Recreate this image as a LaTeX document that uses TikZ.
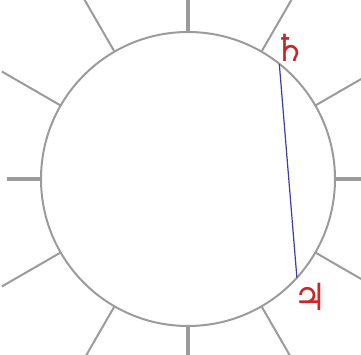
\documentclass[tikz,border=0pt]{standalone}
\usepackage{fontspec}
\usepackage{tikz}
\usetikzlibrary{positioning,calc}
\newfontfamily\symfont{DejaVu Sans}
\definecolor{wgray}{RGB}{155,155,155}
\definecolor{pred}{RGB}{200,40,40}
\definecolor{pblue}{RGB}{60,60,170}

\begin{document}
\begin{tikzpicture}[x=0.75pt,y=0.75pt,
  rim/.style={draw=wgray,line width=1.5pt},
  spoke/.style={draw=wgray,line width=1.5pt},
  mainspoke/.style={draw=wgray,line width=2.3pt},
  planet/.style={text=pred,font=\symfont\fontsize{28}{28}\selectfont,inner sep=0pt},
  aspect/.style={draw=pblue,line width=0.9pt}]
\clip (-188,-175) rectangle (173,179);
\foreach \a in {30,60,120,150,210,240,300,330}
  \draw[spoke] (\a:147) -- (\a:215);
\foreach \a in {0,90,180,270}
  \draw[mainspoke] (\a:147) -- (\a:181);
\draw[rim] (0,0) circle (147);
\coordinate (sat) at (51.6:147);
\coordinate (jup) at (-42.2:147);
\node[planet] (satg) at (52:166) {♄};
\node[planet] (jupg) at (-44:170) {♃};
\draw[aspect] (sat) -- (jup);
\end{tikzpicture}
\end{document}
